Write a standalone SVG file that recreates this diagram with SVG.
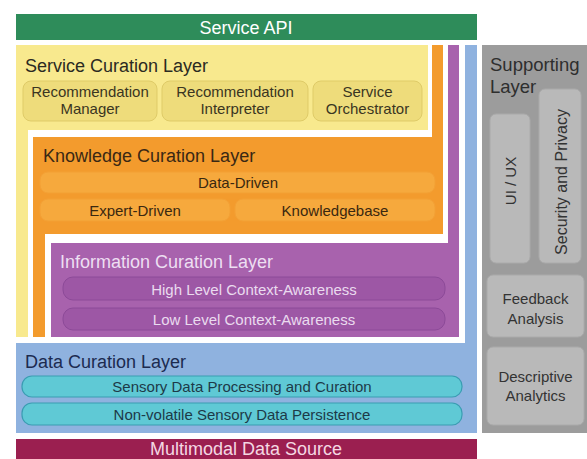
<svg xmlns="http://www.w3.org/2000/svg" width="587" height="459" viewBox="0 0 587 459">
<style>
text{font-family:"Liberation Sans",Arial,Helvetica,sans-serif}
.h{font-size:18px}
.s{font-size:15px;text-anchor:middle}
.ybox{fill:#eedc7b;stroke:#dfcb68;stroke-width:1}
.obox{fill:#f6a93d;stroke:#f3a035;stroke-width:1}
.pbox{fill:#9d57a5;stroke:#8c4a98;stroke-width:1}
.cbox{fill:#5fc9d5;stroke:#3a9db2;stroke-width:1.2}
.gbox{fill:#b9b9b9;stroke:#aaaaaa;stroke-width:1}
</style>
<rect width="587" height="459" fill="#ffffff"/>
<g id="service-api">
<rect x="16" y="14" width="461" height="26" fill="#2e8c5a"/>
<text class="h" x="246" y="34" text-anchor="middle" fill="#ffffff">Service API</text>
</g>
<g id="data-curation-layer">
<path d="M465,45 H477 V433 H16 V343 H465 Z" fill="#8fb2df"/>
<text class="h" x="25" y="368" fill="#1c2b50">Data Curation Layer</text>
<rect class="cbox" x="22" y="376" width="440" height="21" rx="10"/>
<text class="s" x="242" y="392" fill="#1d3a48">Sensory Data Processing and Curation</text>
<rect class="cbox" x="22" y="403" width="440" height="22" rx="10"/>
<text class="s" x="242" y="420" fill="#1d3a48">Non-volatile Sensory Data Persistence</text>
</g>
<g id="information-curation-layer">
<path d="M448,45 H459 V337 H51 V243 H448 Z" fill="#a862ad"/>
<text class="h" x="60" y="268" fill="#eddff2">Information Curation Layer</text>
<rect class="pbox" x="63" y="277" width="382" height="23" rx="10"/>
<text class="s" x="254" y="295" fill="#eadbef">High Level Context-Awareness</text>
<rect class="pbox" x="63" y="308" width="382" height="22" rx="10"/>
<text class="s" x="254" y="325" fill="#eadbef">Low Level Context-Awareness</text>
</g>
<g id="knowledge-curation-layer">
<path d="M432,45 H443 V234 H45 V337 H33 V137 H432 Z" fill="#f39b2d"/>
<text class="h" x="43" y="162" fill="#3a2814">Knowledge Curation Layer</text>
<rect class="obox" x="40" y="172" width="395" height="21" rx="8"/>
<text class="s" x="238" y="188" fill="#3a2810">Data-Driven</text>
<rect class="obox" x="40" y="199" width="190" height="22" rx="8"/>
<text class="s" x="135" y="216" fill="#3a2810">Expert-Driven</text>
<rect class="obox" x="235" y="199" width="200" height="22" rx="8"/>
<text class="s" x="335" y="216" fill="#3a2810">Knowledgebase</text>
</g>
<g id="service-curation-layer">
<path d="M16,45 H428 V130 H28 V337 H16 Z" fill="#f8e98e"/>
<text class="h" x="25" y="72" fill="#2b2a22">Service Curation Layer</text>
<rect class="ybox" x="23" y="81" width="134" height="40" rx="8"/>
<text class="s" x="90" y="97" fill="#3a3522">Recommendation</text>
<text class="s" x="90" y="114" fill="#3a3522">Manager</text>
<rect class="ybox" x="162" y="81" width="146" height="40" rx="8"/>
<text class="s" x="235" y="97" fill="#3a3522">Recommendation</text>
<text class="s" x="235" y="114" fill="#3a3522">Interpreter</text>
<rect class="ybox" x="313" y="81" width="109" height="40" rx="8"/>
<text class="s" x="367.5" y="97" fill="#3a3522">Service</text>
<text class="s" x="367.5" y="114" fill="#3a3522">Orchestrator</text>
</g>
<g id="multimodal-data-source">
<rect x="16" y="439" width="461" height="20" fill="#9b1f50"/>
<text class="h" x="246" y="455" text-anchor="middle" fill="#f4d8e3">Multimodal Data Source</text>
</g>
<g id="supporting-layer">
<rect x="482" y="45" width="105" height="388" fill="#9c9c9c"/>
<text class="h" x="490" y="71" fill="#2e2e2e" style="font-size:18.5px">Supporting</text>
<text class="h" x="490" y="93" fill="#2e2e2e" style="font-size:18.5px">Layer</text>
<rect class="gbox" x="490" y="114" width="40" height="149" rx="6"/>
<text class="s" transform="translate(510,181) rotate(-90)" dominant-baseline="central" fill="#333333">UI / UX</text>
<rect class="gbox" x="539" y="89" width="42" height="174" rx="6"/>
<text class="s" transform="translate(561,182) rotate(-90)" dominant-baseline="central" fill="#333333" style="font-size:16px">Security and Privacy</text>
<rect class="gbox" x="487" y="275" width="97" height="62" rx="6"/>
<text class="s" x="535.5" y="304" fill="#333333">Feedback</text>
<text class="s" x="535.5" y="324" fill="#333333">Analysis</text>
<rect class="gbox" x="487" y="347" width="97" height="78" rx="6"/>
<text class="s" x="535.5" y="382" fill="#333333">Descriptive</text>
<text class="s" x="535.5" y="401" fill="#333333">Analytics</text>
</g>
<g id="connectors"></g>
</svg>
